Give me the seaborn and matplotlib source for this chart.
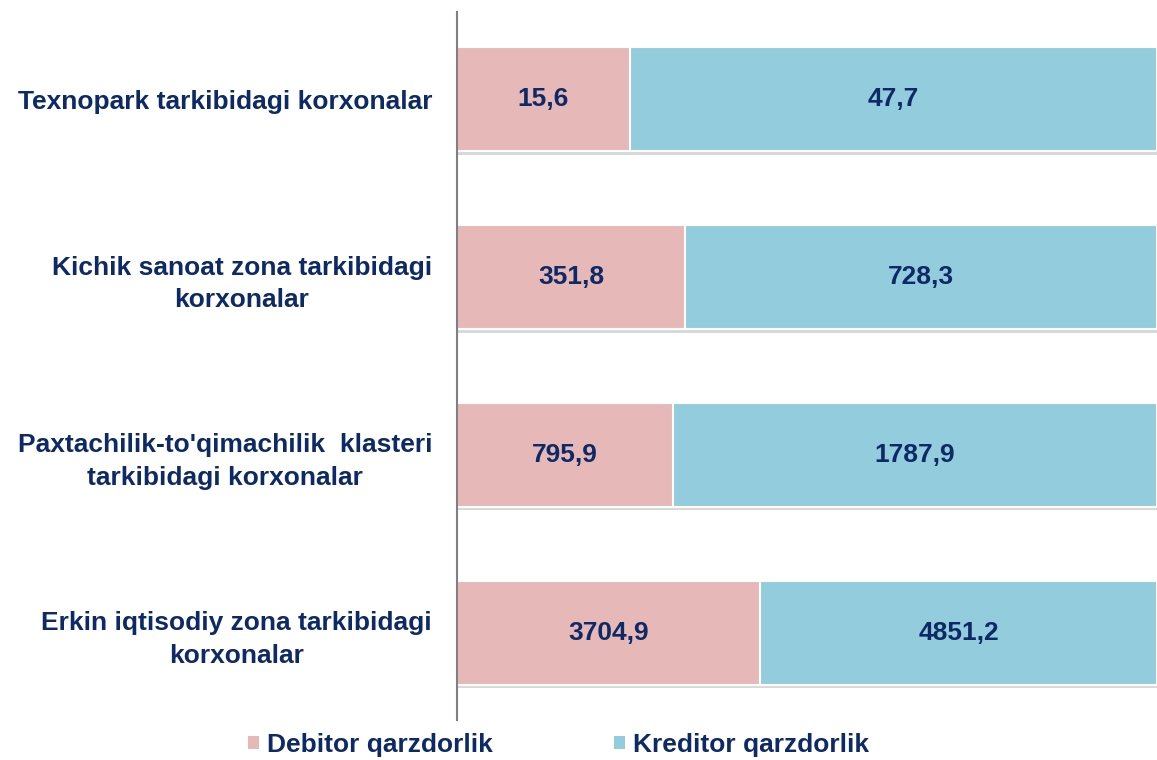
import pandas as pd
import matplotlib.pyplot as plt
import matplotlib.patheffects as pe
import seaborn as sns
from matplotlib.patches import Patch

# ---------------------------------------------------------------------------
# Datos
# ---------------------------------------------------------------------------
categorias = [
    "Texnopark tarkibidagi korxonalar",
    "Kichik sanoat zona tarkibidagi\nkorxonalar",
    "Paxtachilik-to'qimachilik  klasteri\ntarkibidagi korxonalar",
    "Erkin iqtisodiy zona tarkibidagi\nkorxonalar",
]
debitor = [15.6, 351.8, 795.9, 3704.9]
kreditor = [47.7, 728.3, 1787.9, 4851.2]
series = ["Debitor qarzdorlik", "Kreditor qarzdorlik"]

COLOR_DEB = "#E6B8B7"
COLOR_KRE = "#93CDDD"
NAVY = "#0D2A66"

df = pd.DataFrame({"cat": categorias, "deb": debitor, "kre": kreditor})
df["total"] = df["deb"] + df["kre"]
df["deb_pct"] = df["deb"] / df["total"] * 100
df["all_pct"] = 100.0

sns.set_style("white")
plt.rcParams["font.family"] = ["Liberation Sans", "DejaVu Sans"]

fig = plt.figure(figsize=(11.57, 7.6), dpi=100)
ax = fig.add_axes([0.395, 0.0526, 0.605, 0.9316])

sns.barplot(data=df, y="cat", x="all_pct", orient="h", color=COLOR_KRE,
            width=0.585, edgecolor="white", linewidth=1.5, saturation=1, ax=ax)
n_full = len(ax.patches)
sns.barplot(data=df, y="cat", x="deb_pct", orient="h", color=COLOR_DEB,
            width=0.585, edgecolor="white", linewidth=1.5, saturation=1, ax=ax)

# sombra suave bajo las barras completas
for p in ax.patches[:n_full]:
    p.set_path_effects([
        pe.SimplePatchShadow(offset=(0, -2.5), shadow_rgbFace="#7f7f7f", alpha=0.3),
        pe.Normal(),
    ])

fmt = lambda v: f"{v:.1f}".replace(".", ",")
for i, row in df.iterrows():
    ax.text(row["deb_pct"] / 2, i, fmt(row["deb"]), ha="center", va="center",
            fontsize=19, fontweight="bold", color=NAVY)
    ax.text(row["deb_pct"] + (100 - row["deb_pct"]) / 2, i, fmt(row["kre"]),
            ha="center", va="center", fontsize=19, fontweight="bold", color=NAVY)

ax.set_xlim(0, 100)
ax.set_ylim(3.49, -0.49)
ax.set_xlabel("")
ax.set_ylabel("")
ax.set_xticks([])
ax.set_yticks(range(len(categorias)))
ax.set_yticklabels(categorias, fontsize=19, fontweight="bold", color=NAVY,
                   multialignment="center", linespacing=1.45)
ax.tick_params(axis="y", length=0, pad=18)

for s in ["top", "right", "bottom"]:
    ax.spines[s].set_visible(False)
ax.spines["left"].set_color("#808080")
ax.spines["left"].set_linewidth(1.5)

handles = [Patch(facecolor=COLOR_DEB, edgecolor="none"),
           Patch(facecolor=COLOR_KRE, edgecolor="none")]
fig.legend(handles, series, loc="center", bbox_to_anchor=(0.483, 0.02),
           ncol=2, frameon=False, handlelength=0.42, handleheight=0.42,
           handletextpad=0.3, columnspacing=4.6,
           prop={"size": 19, "weight": "bold"}, labelcolor=NAVY)

fig.savefig("out.png", dpi=100)
